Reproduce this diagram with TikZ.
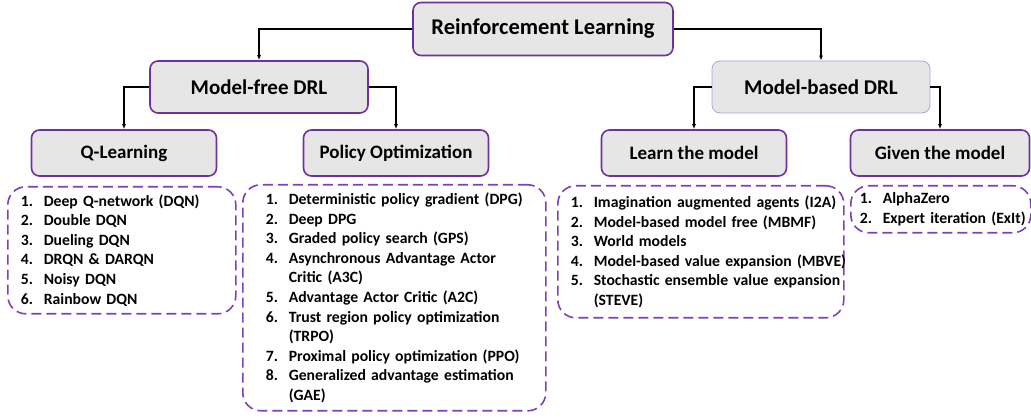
\documentclass[tikz,border=0pt]{standalone}
\usepackage{fontspec}
\setmainfont{Carlito}
\usetikzlibrary{arrows.meta}
\definecolor{boxpurple}{RGB}{112,48,160}
\definecolor{lightpurple}{RGB}{180,160,216}
\definecolor{dashpurple}{RGB}{128,64,184}
\definecolor{boxgray}{RGB}{230,230,230}
\newcommand{\itm}[2]{\makebox[23pt][l]{#1}\mbox{#2}}
\tikzset{
  catbox/.style={draw=boxpurple, line width=1.6pt, fill=boxgray, rounded corners=8pt, font=\bfseries},
  listbox/.style={draw=dashpurple, line width=1.6pt, dash pattern=on 10pt off 5pt, rounded corners=18pt,
    anchor=north west, align=left, inner ysep=0pt, font=\bfseries\fontsize{15.7}{19.6}\selectfont},
  arr/.style={-{Latex[length=5pt,width=4pt]}, line width=1.1pt}
}
\begin{document}
\begin{tikzpicture}[x=1pt, y=-1pt]
\useasboundingbox (0,0) rectangle (1031,419);
% category boxes
\node [catbox, minimum width=260pt, minimum height=53pt, font=\bfseries\fontsize{22.5}{26}\selectfont] (rl) at (543,29) {Reinforcement Learning};
\node [catbox, minimum width=218pt, minimum height=52pt, font=\bfseries\fontsize{21}{24}\selectfont] (mf) at (259,87) {Model-free DRL};
\node [catbox, draw=lightpurple, line width=0.8pt, minimum width=218pt, minimum height=52pt, font=\bfseries\fontsize{21}{24}\selectfont] (mb) at (821,87) {Model-based DRL};
\node [catbox, minimum width=185pt, minimum height=46pt, font=\bfseries\fontsize{19}{22}\selectfont] (ql) at (124,153) {Q-Learning};
\node [catbox, minimum width=185pt, minimum height=46pt, font=\bfseries\fontsize{19}{22}\selectfont] (po) at (396,153) {Policy Optimization};
\node [catbox, minimum width=185pt, minimum height=46pt, font=\bfseries\fontsize{19}{22}\selectfont] (lm) at (694,153) {Learn the model};
\node [catbox, minimum width=179pt, minimum height=46pt, font=\bfseries\fontsize{19}{22}\selectfont] (gm) at (940,153) {Given the model};
% connectors
\draw [arr] (rl.west) -| (mf.north);
\draw [arr] (rl.east) -| (mb.north);
\draw [arr] (mf.west) -| (ql.north);
\draw [arr] (mf.east) -| (po.north);
\draw [arr] (mb.west) -| (lm.north);
\draw [arr] (mb.east) -| (gm.north);
% method lists
\node [listbox, inner xsep=13pt, text width=202pt, minimum height=127pt] (qlist) at (7,186) {%
\itm{1.}{Deep Q-network (DQN)}\\
\itm{2.}{Double DQN}\\
\itm{3.}{Dueling DQN}\\
\itm{4.}{DRQN \& DARQN}\\
\itm{5.}{Noisy DQN}\\
\itm{6.}{Rainbow DQN}};
\node [listbox, inner xsep=23pt, text width=257pt, minimum height=226pt] (plist) at (242,184) {%
\itm{1.}{Deterministic policy gradient (DPG)}\\
\itm{2.}{Deep DPG}\\
\itm{3.}{Graded policy search (GPS)}\\
\itm{4.}{Asynchronous Advantage Actor}\\
\itm{}{Critic (A3C)}\\
\itm{5.}{Advantage Actor Critic (A2C)}\\
\itm{6.}{Trust region policy optimization}\\
\itm{}{(TRPO)}\\
\itm{7.}{Proximal policy optimization (PPO)}\\
\itm{8.}{Generalized advantage estimation}\\
\itm{}{(GAE)}};
\node [listbox, inner xsep=13pt, text width=260pt, minimum height=132pt] (llist) at (557,185) {%
\itm{1.}{Imagination augmented agents (I2A)}\\
\itm{2.}{Model-based model free (MBMF)}\\
\itm{3.}{World models}\\
\itm{4.}{Model-based value expansion (MBVE)}\\
\itm{5.}{Stochastic ensemble value expansion}\\
\itm{}{(STEVE)}};
\node [listbox, inner xsep=9pt, text width=162pt, minimum height=47pt] (glist) at (850,185) {%
\itm{1.}{AlphaZero}\\
\itm{2.}{Expert iteration (ExIt)}};
\end{tikzpicture}
\end{document}
